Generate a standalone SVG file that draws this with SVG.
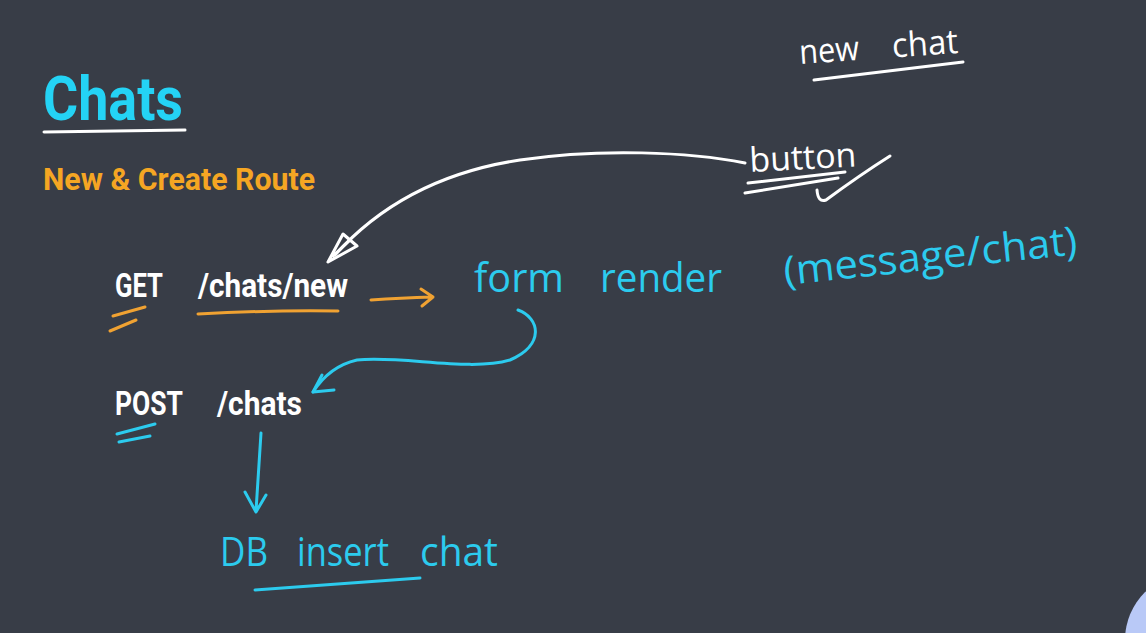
<svg xmlns="http://www.w3.org/2000/svg" width="1146" height="633" viewBox="0 0 1146 633">
<style>
.bg{fill:#383d47}
.title{font-family:Roboto,"Liberation Sans",sans-serif;font-weight:700;fill:#24d3f5}
.sub{font-family:Roboto,"Liberation Sans",sans-serif;font-weight:700;fill:#f5a623}
.route{font-family:Roboto,"Liberation Sans",sans-serif;font-weight:700;fill:#ffffff}
.hand{font-family:"Open Sans","DejaVu Sans",sans-serif;font-weight:400}
.hw{fill:#ffffff}
.hc{fill:#2ccbee}
.sw{fill:none;stroke:#ffffff;stroke-width:3;stroke-linecap:round;stroke-linejoin:round}
.so{fill:none;stroke:#f0a232;stroke-width:3;stroke-linecap:round;stroke-linejoin:round}
.sc{fill:none;stroke:#2ccbee;stroke-width:3;stroke-linecap:round;stroke-linejoin:round}
</style>
<rect class="bg" x="0" y="0" width="1146" height="633"/>
<circle cx="1192" cy="640" r="67" fill="#b9c9f7"/>

<g id="title">
<text class="title" x="43" y="120" font-size="62" textLength="140" lengthAdjust="spacingAndGlyphs">Chats</text>
<path class="sw" d="M44,132 L185,130" stroke-width="4.5"/>
</g>
<g id="subtitle">
<text class="sub" x="43" y="190" font-size="32" textLength="272" lengthAdjust="spacingAndGlyphs">New &amp; Create Route</text>
</g>

<g id="get-route">
<text class="route" font-size="33" y="297"><tspan x="115" textLength="48" lengthAdjust="spacingAndGlyphs">GET</tspan><tspan x="198" textLength="150" lengthAdjust="spacingAndGlyphs">/chats/new</tspan></text>
<path class="so" d="M113,316 L145,307 M110,331 L136,320"/>
<path class="so" d="M198,314 Q270,310 338,311"/>
</g>

<g id="post-route">
<text class="route" font-size="33" y="415"><tspan x="115" textLength="68" lengthAdjust="spacingAndGlyphs">POST</tspan><tspan x="217" textLength="85" lengthAdjust="spacingAndGlyphs">/chats</tspan></text>
<path class="sc" d="M117,434 L155,424 M119,442 L150,436"/>
</g>

<g id="new-chat">
<text class="hand hw" y="64" font-size="34" transform="rotate(-4 800 64)"><tspan x="800" textLength="60" lengthAdjust="spacingAndGlyphs">new</tspan><tspan x="893" textLength="66" lengthAdjust="spacingAndGlyphs">chat</tspan></text>
<path class="sw" d="M814,80 L963,62"/>
</g>

<g id="button">
<text class="hand hw" x="750" y="172" font-size="34" textLength="107" lengthAdjust="spacingAndGlyphs" transform="rotate(-3 750 172)">button</text>
<path class="sw" d="M748,183 L845,172 M745,193 L838,178 M817,190 Q818,203 826,200 Q860,175 890,156"/>
</g>

<g id="form-render">
<text class="hand hc" y="292" font-size="40"><tspan x="474" textLength="90" lengthAdjust="spacingAndGlyphs">form</tspan><tspan x="600" textLength="122" lengthAdjust="spacingAndGlyphs">render</tspan></text>
</g>

<g id="message-chat">
<text class="hand hc" x="785" y="285" font-size="40" textLength="295" lengthAdjust="spacingAndGlyphs" transform="rotate(-6 785 285)">(message/chat)</text>
</g>

<g id="db-insert">
<text class="hand hc" y="566" font-size="40"><tspan x="220" textLength="48" lengthAdjust="spacingAndGlyphs">DB</tspan><tspan x="297" textLength="92" lengthAdjust="spacingAndGlyphs">insert</tspan><tspan x="420" textLength="78" lengthAdjust="spacingAndGlyphs">chat</tspan></text>
<path class="sc" d="M255,590 Q340,584 420,578"/>
</g>

<g id="connectors">
<path class="sw" d="M745,163 C690,152 600,148 520,160 C440,172 380,205 335,255"/>
<path class="sw" d="M328,262 L357,246 L343,234 Z M333,256 L350,240"/>
<path class="so" d="M371,300 Q400,298 433,297 M421,289 L433,297 L422,306"/>
<path class="sc" d="M518,310 C540,318 545,345 510,360 C470,372 400,355 357,360 C335,365 322,378 313,392"/>
<path class="sc" d="M313,392 L322,375 M313,392 L334,390"/>
<path class="sc" d="M261,433 L256,511 M245,492 L256,512 L266,495"/>
</g>
</svg>
